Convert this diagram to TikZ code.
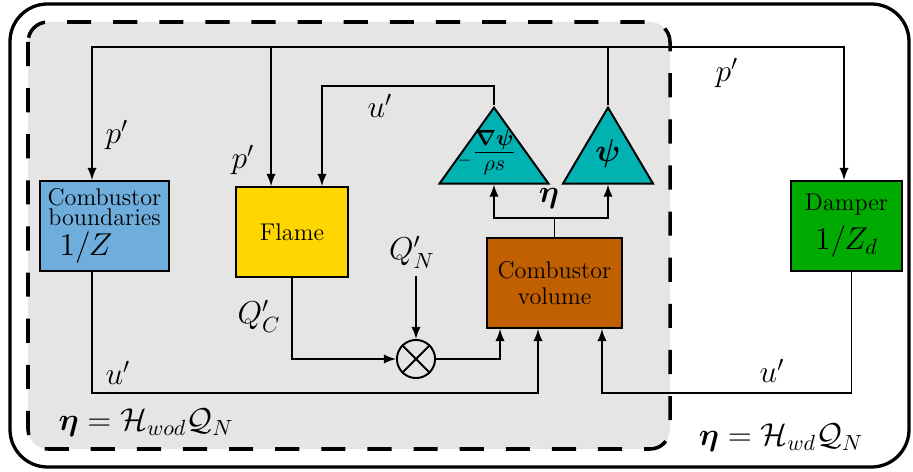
\documentclass[tikz,border=0pt]{standalone}
\usepackage{amsmath,amssymb,bm}
\usetikzlibrary{shapes.geometric,arrows}

\definecolor{bndblue}{RGB}{111,174,220}
\definecolor{flameyellow}{RGB}{255,214,0}
\definecolor{volbrown}{RGB}{192,96,0}
\definecolor{dampgreen}{RGB}{0,170,0}
\definecolor{gaincyan}{RGB}{0,178,178}
\definecolor{boxgray}{RGB}{229,229,229}

\tikzstyle{block} = [rectangle, draw, line width=0.9pt, align=center, minimum height=1.44cm,
inner sep=0pt, font=\fontsize{11}{12}\selectfont]
\tikzstyle{gain} = [isosceles triangle, isosceles triangle stretches, shape border rotate=90,
draw, line width=0.9pt, fill=gaincyan, minimum height=1.216cm, inner sep=0pt, anchor=apex]
\tikzstyle{lbl} = [font=\Large]
\tikzstyle{line} = [draw, line width=0.9pt]
\tikzstyle{arrow} = [line width=0.9pt,->,>=latex,draw]

\begin{document}
\begin{tikzpicture}[x=0.016cm,y=-0.016cm]
\useasboundingbox (0,0) rectangle (913,472);

% Frames: with and without damper
\draw[line width=1.5pt, rounded corners=0.6cm] (10,4) rectangle (909,467);
\draw[line width=1.6pt, dash pattern=on 11pt off 10pt, fill=boxgray, rounded corners=0.32cm] (28,22) rectangle (670,449);

% Blocks
\node[block, fill=bndblue, minimum width=2.05cm](bound) at (104.5,226) {Combustor\\[-3pt]boundaries\\[1.7pt]{\Large $1/Z$}\hspace*{0.59cm}};
\node[block, fill=flameyellow, minimum width=1.79cm](flame) at (292,232) {Flame};
\node[block, fill=volbrown, minimum width=2.16cm](volume) at (554.5,283) {Combustor\\volume};
\node[block, fill=dampgreen, minimum width=1.78cm](damper) at (846.5,226) {Damper\\[4pt]{\Large $1/Z_d$}};

% Gains
\node[gain, minimum width=1.744cm](gradtri) at (494,105) {};
\node[gain, minimum width=1.44cm](psitri) at (608,105) {};
\node[lbl](gradlbl) at (487,153) {${}_{\scriptscriptstyle-}\frac{\bm{\nabla\psi}}{\rho s}$};
\node[lbl](psilbl) at (608,154) {$\bm{\psi}$};

% Multiplier
\node[circle, draw, line width=0.9pt, minimum size=0.61cm, inner sep=0pt](mult) at (416,359) {};
\draw[line width=0.9pt] (mult.north west) -- (mult.south east) (mult.north east) -- (mult.south west);

% Junctions
\coordinate (pj) at (608,47);
\coordinate (ej) at (554.5,218);

% Labels
\node[lbl](pbound) at (117,135) {$p'$};
\node[lbl](pflame) at (243,160) {$p'$};
\node[lbl](pdamp) at (727,73) {$p'$};
\node[lbl](uflame) at (380,106) {$u'$};
\node[lbl](ubound) at (118,373) {$u'$};
\node[lbl](udamp) at (772,371) {$u'$};
\node[lbl](qc) at (259,316) {$Q'_C$};
\node[lbl](qn) at (412,252) {$Q'_N$};
\node[lbl](etalbl) at (549,199) {$\bm{\eta}$};
\node[lbl](wodlbl) at (146,423) {$\bm{\eta}=\mathcal{H}_{wod}\mathcal{Q}_N$};
\node[lbl](wdlbl) at (781,438) {$\bm{\eta}=\mathcal{H}_{wd}\mathcal{Q}_N$};

% Pressure feedback
\path[line] (psitri.apex) -- (pj);
\path[arrow] (pj) -| ([xshift=-0.2cm]bound.north);
\path[arrow] (pj) -| ([xshift=-0.336cm]flame.north);
\path[arrow] (pj) -| ([xshift=-0.04cm]damper.north);

% Velocity feedback
\path[arrow] (gradtri.apex) -- ++(0,-19) -| ([xshift=0.48cm]flame.north);
\path[line] (volume.north) -- (ej);
\path[arrow] (ej) -| (gradtri.apex |- gradtri.south);
\path[arrow] (ej) -| (psitri.south);

% Heat release
\path[arrow] (flame.south) |- (mult.west);
\path[arrow] (qn.south -| mult.north) -- (mult.north);
\path[arrow] (mult.east) -| ([xshift=-0.872cm]volume.south);

% Boundary velocities
\path[arrow] ([xshift=-0.2cm]bound.south) -- ++(0,121) -| ([xshift=-0.264cm]volume.south);
\path[arrow] ([xshift=0.08cm]damper.south) -- ++(0,121) -| ([xshift=0.76cm]volume.south);
\end{tikzpicture}
\end{document}
